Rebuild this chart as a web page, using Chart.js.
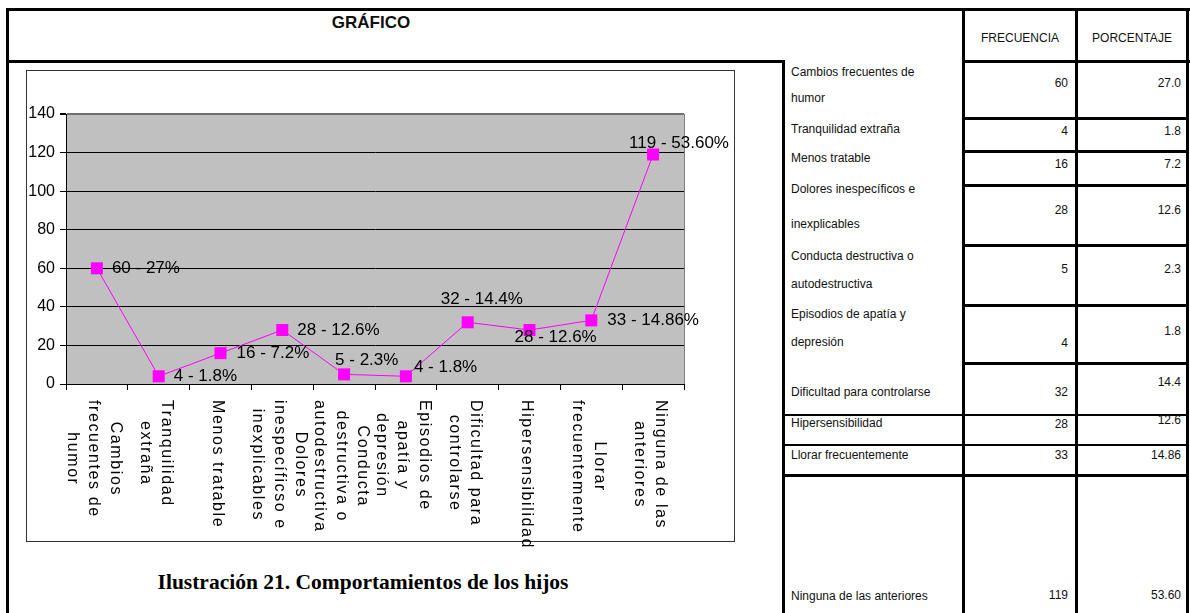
<!DOCTYPE html>
<html>
<head>
<meta charset="utf-8">
<script src="https://cdn.jsdelivr.net/npm/chart.js@4"></script>
<style>
  html, body { margin: 0; padding: 0; background: #fff; }
  body { width: 1190px; height: 613px; position: relative; overflow: hidden;
         font-family: Arial, "Liberation Sans", sans-serif; color: #111; }
  .ln { position: absolute; background: #000; }
  .t { position: absolute; font-size: 12px; line-height: 14px; white-space: nowrap; transform: translateY(-50%); }
  .num { text-align: right; }
  #title { position: absolute; left: 271px; width: 200px; top: 13px; text-align: center;
           font-weight: bold; font-size: 17px; }
  #frame { position: absolute; left: 26px; top: 70px; width: 707px; height: 470px; border: 1px solid #333; }
  #wrap { position: absolute; left: 26px; top: 70px; width: 710px; height: 490px; }
  #caption { position: absolute; left: 113px; width: 500px; top: 570px; text-align: center; white-space: nowrap;
             font-family: "Liberation Serif", "Times New Roman", serif; font-weight: bold; font-size: 21.5px; color: #000; }
</style>
</head>
<body>
<div id="title">GRÁFICO</div>
<div id="frame"></div>
<div id="wrap"><canvas id="chart" width="710" height="490"></canvas></div>
<div id="caption">Ilustración 21. Comportamientos de los hijos</div>
<div id="table"></div>

<script>
// ---------- Data ----------
const categories = [
  ['Cambios', 'frecuentes de', 'humor'],
  ['Tranquilidad', 'extraña'],
  ['Menos tratable'],
  ['Dolores', 'inespecíficso e', 'inexplicables'],
  ['Conducta', 'destructiva o', 'autodestructiva'],
  ['Episodios de', 'apatía y', 'depresión'],
  ['Dificultad para', 'controlarse'],
  ['Hipersensibilidad'],
  ['Llorar', 'frecuentemente'],
  ['Ninguna de las', 'anteriores'],
];
const frecuencia = [60, 4, 16, 28, 5, 4, 32, 28, 33, 119];
const porcentajeGrafico = ['27', '1.8', '7.2', '12.6', '2.3', '1.8', '14.4', '12.6', '14.86', '53.60'];
const porcentajeTabla = ['27.0', '1.8', '7.2', '12.6', '2.3', '1.8', '14.4', '12.6', '14.86', '53.60'];
const filasTabla = [
  ['Cambios frecuentes de', 'humor'],
  ['Tranquilidad extraña'],
  ['Menos tratable'],
  ['Dolores inespecíficos e', 'inexplicables'],
  ['Conducta destructiva o', 'autodestructiva'],
  ['Episodios de apatía y', 'depresión'],
  ['Dificultad para controlarse'],
  ['Hipersensibilidad'],
  ['Llorar frecuentemente'],
  ['Ninguna de las anteriores'],
];
const yTicks = [0, 20, 40, 60, 80, 100, 120, 140];
const encabezados = ['FRECUENCIA', 'PORCENTAJE'];

// ---------- Table layout (px) ----------
const lines = [
  [6, 8, 1184, 3], [6, 8, 3, 605], [6, 60, 779, 3], [962, 60, 228, 3],
  [782, 60, 3, 553], [962, 8, 3, 605], [1075, 8, 3, 605], [1186, 8, 3, 605],
  [962, 117, 227, 3], [962, 150, 227, 3], [962, 184, 227, 3], [962, 244, 227, 3],
  [962, 304, 227, 3], [962, 362, 227, 3],
  [782, 414, 407, 2], [782, 444, 407, 2], [782, 474, 407, 3],
];
const labelY = [[72, 98], [129], [158], [189, 224], [256, 284], [314, 342], [392], [423], [455], [596]];
const freqY = [83, 131, 164, 210, 269, 343, 392, 424, 455, 595];
const pctY = [83, 131, 164, 210, 269, 331, 382, 420, 455, 595];

function buildTable() {
  const host = document.getElementById('table');
  let html = lines.map(([x, y, w, h]) =>
    `<div class="ln" style="left:${x}px;top:${y}px;width:${w}px;height:${h}px"></div>`).join('');
  html += `<div class="t" style="left:965px;width:110px;text-align:center;top:38px">${encabezados[0]}</div>`;
  html += `<div class="t" style="left:1078px;width:108px;text-align:center;top:38px">${encabezados[1]}</div>`;
  filasTabla.forEach((rows, i) => {
    rows.forEach((txt, j) => {
      html += `<div class="t" style="left:791px;top:${labelY[i][j]}px">${txt}</div>`;
    });
    html += `<div class="t num" style="right:122px;top:${freqY[i]}px">${frecuencia[i]}</div>`;
    html += `<div class="t num" style="right:9px;top:${pctY[i]}px">${porcentajeTabla[i]}</div>`;
  });
  host.innerHTML = html;
}

// ---------- Chart plugins ----------
const plotBackground = {
  id: 'plotBackground',
  beforeDraw(chart) {
    const { ctx, chartArea: a } = chart;
    ctx.save();
    ctx.fillStyle = '#c0c0c0';
    ctx.fillRect(a.left, a.top, a.right - a.left, a.bottom - a.top);
    ctx.restore();
  },
  beforeDatasetsDraw(chart) {
    const { ctx, chartArea: a } = chart;
    ctx.save();
    ctx.strokeStyle = '#808080';
    ctx.lineWidth = 1;
    ctx.beginPath();
    ctx.moveTo(a.right + 0.5, a.top);
    ctx.lineTo(a.right + 0.5, a.bottom);
    ctx.stroke();
    ctx.restore();
  },
};

// label offsets from each point: [dx to text start, dy to text middle]
const labelOffsets = [[15, 0], [15, 0], [16, 0], [15, 0], [-9, -14], [8, -9], [-27, -23], [-15, 7], [16, 0], [-24, -11]];

const pointLabels = {
  id: 'pointLabels',
  afterDatasetsDraw(chart) {
    const { ctx } = chart;
    const meta = chart.getDatasetMeta(0);
    ctx.save();
    ctx.font = '17px Arial, "Liberation Sans", sans-serif';
    ctx.fillStyle = '#000';
    ctx.textAlign = 'left';
    ctx.textBaseline = 'middle';
    meta.data.forEach((pt, i) => {
      const [dx, dy] = labelOffsets[i];
      ctx.fillText(`${frecuencia[i]} - ${porcentajeGrafico[i]}%`, pt.x + dx, pt.y + dy);
    });
    ctx.restore();
  },
};

// x labels read top-to-bottom (rotated clockwise), lines centred in a block
const verticalLabels = {
  id: 'verticalLabels',
  afterDraw(chart) {
    const { ctx } = chart;
    const xs = chart.scales.x;
    const top = chart.chartArea.bottom + 16;
    const lh = 21.5;
    ctx.save();
    ctx.font = '16px Arial, "Liberation Sans", sans-serif';
    if ('letterSpacing' in ctx) ctx.letterSpacing = '1.6px';
    ctx.fillStyle = '#000';
    ctx.textAlign = 'center';
    ctx.textBaseline = 'middle';
    categories.forEach((lbl, i) => {
      const cx = xs.getPixelForValue(i) - 3;
      const maxW = Math.max(...lbl.map((s) => ctx.measureText(s).width));
      ctx.save();
      ctx.translate(cx, top);
      ctx.rotate(Math.PI / 2);
      lbl.forEach((s, j) => {
        ctx.fillText(s, maxW / 2, (j - (lbl.length - 1) / 2) * lh);
      });
      ctx.restore();
    });
    ctx.restore();
  },
};

// ---------- Chart ----------
function initChart() {
  const ctx = document.getElementById('chart').getContext('2d');
  new Chart(ctx, {
    type: 'line',
    data: {
      labels: categories.map((c) => c.join(' ')),
      datasets: [{
        data: frecuencia,
        borderColor: '#ff00ff',
        borderWidth: 1,
        tension: 0,
        fill: false,
        pointStyle: 'rect',
        pointRadius: 8.5,
        pointHoverRadius: 8.5,
        pointBackgroundColor: '#ff00ff',
        pointBorderColor: '#ff00ff',
        pointBorderWidth: 0,
        clip: false,
      }],
    },
    options: {
      responsive: false,
      animation: false,
      events: [],
      layout: { padding: { left: 0, top: 44, right: 52, bottom: 0 } },
      plugins: { legend: { display: false }, tooltip: { enabled: false } },
      scales: {
        x: {
          offset: true,
          grid: { offset: true, drawOnChartArea: false, drawTicks: true, tickLength: 6, color: '#000', tickColor: '#000' },
          border: { display: true, color: '#000', width: 1 },
          ticks: { display: false },
          afterFit: (s) => { s.height = 176; },
        },
        y: {
          min: yTicks[0],
          max: yTicks[yTicks.length - 1],
          afterBuildTicks: (s) => { s.ticks = yTicks.map((v) => ({ value: v })); },
          ticks: { color: '#000', padding: 5, font: { family: 'Arial', size: 16 } },
          grid: {
            color: (c) => (c.tick && c.tick.value === 140 ? '#707070' : '#000'),
            lineWidth: (c) => (c.tick && c.tick.value === 140 ? 2 : 1),
            tickColor: '#000',
            tickLength: 6,
          },
          border: { display: true, color: '#000', width: 1 },
          afterFit: (s) => { s.width = 40; },
        },
      },
    },
    plugins: [plotBackground, pointLabels, verticalLabels],
  });
}

buildTable();
initChart();
</script>
</body>
</html>
